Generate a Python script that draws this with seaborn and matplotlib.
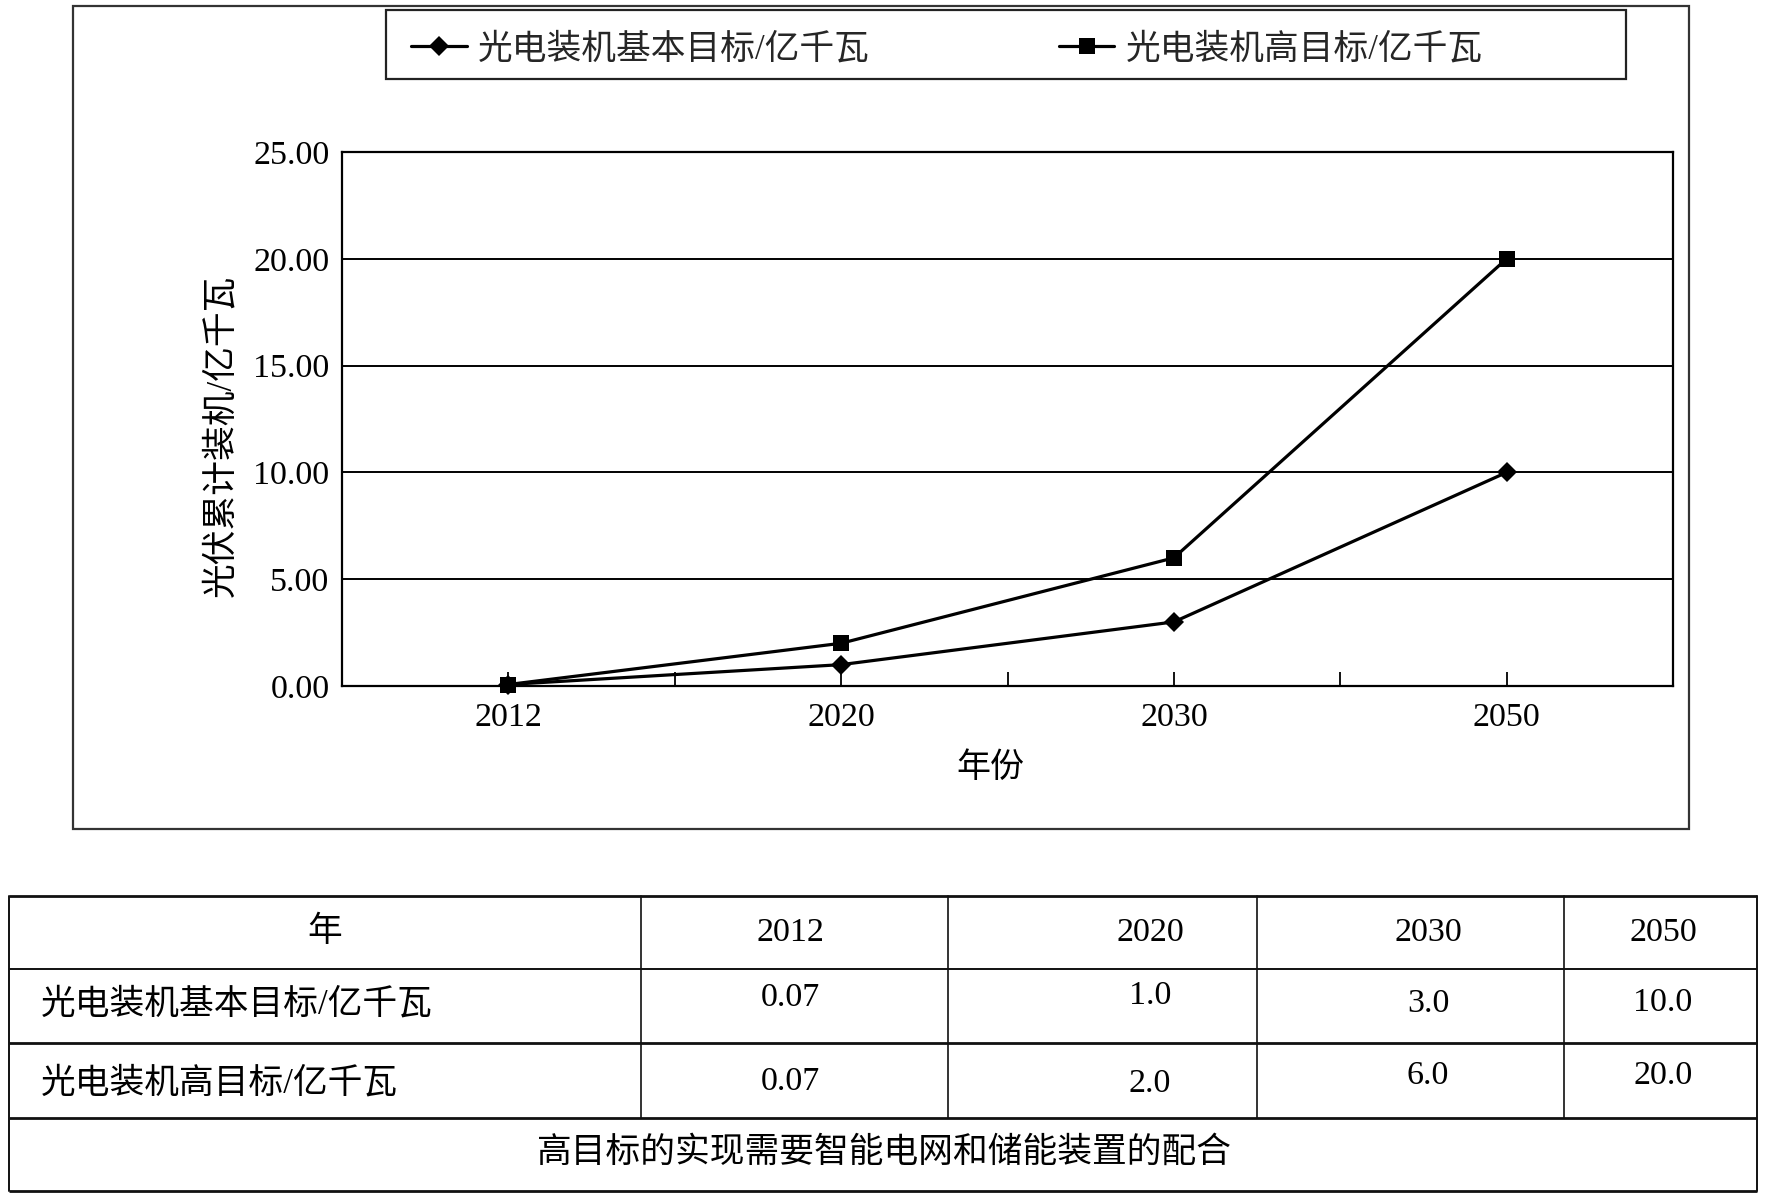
import numpy as np
import pandas as pd
import matplotlib
matplotlib.use("Agg")
import matplotlib.pyplot as plt
import seaborn as sns
from matplotlib.patches import Rectangle
from matplotlib.ticker import FixedLocator, FormatStrFormatter

# ---------------- data ----------------
years = ["2012", "2020", "2030", "2050"]
basic_target = [0.07, 1.0, 3.0, 10.0]
high_target = [0.07, 2.0, 6.0, 20.0]
basic_label = "光电装机基本目标/亿千瓦"
high_label = "光电装机高目标/亿千瓦"
y_ticks = [0, 5, 10, 15, 20, 25]
x_label = "年份"
y_label = "光伏累计装机/亿千瓦"
table_header = "年"
table_basic_text = ["0.07", "1.0", "3.0", "10.0"]
table_high_text = ["0.07", "2.0", "6.0", "20.0"]
table_note = "高目标的实现需要智能电网和储能装置的配合"

# ---------------- style ----------------
sns.set_theme(style="white")
FAM = ["Liberation Serif", "Noto Sans CJK SC", "DejaVu Sans"]
plt.rcParams["font.family"] = FAM
plt.rcParams["axes.unicode_minus"] = False

CJK_SIZE = 25
NUM_SIZE = 24.5

W, H = 1767, 1196
fig = plt.figure(figsize=(W / 100, H / 100), dpi=100)
fig.patch.set_facecolor("white")

# background / layout axes in pixel coordinates (frame, legend box, table)
bg = fig.add_axes([0, 0, 1, 1])
bg.set_xlim(0, W)
bg.set_ylim(H, 0)
bg.axis("off")
bg.set_zorder(0)

# outer chart frame
bg.add_patch(Rectangle((73, 6), 1689 - 73, 829 - 6, fill=False,
                       edgecolor="#333333", linewidth=1.6))
# legend frame
bg.add_patch(Rectangle((386, 10), 1626 - 386, 79 - 10, fill=False,
                       edgecolor="#222222", linewidth=1.6))

# ---------------- chart ----------------
ax = fig.add_axes([342 / W, 1 - 686 / H, (1673 - 342) / W, (686 - 152) / H])
ax.set_zorder(2)
ax.set_facecolor("white")

pos = np.arange(len(years))
df = pd.DataFrame({
    "pos": np.concatenate([pos, pos]),
    "value": basic_target + high_target,
    "series": [basic_label] * len(years) + [high_label] * len(years),
})

sns.lineplot(data=df, x="pos", y="value", hue="series", style="series",
             hue_order=[high_label, basic_label],
             style_order=[high_label, basic_label],
             palette={basic_label: "black", high_label: "black"},
             markers={basic_label: "D", high_label: "s"},
             dashes=False, linewidth=2.3, markeredgewidth=0,
             ax=ax, legend=False, zorder=3)

line_by_label = {}
for ln in ax.lines:
    m = ln.get_marker()
    if m == "D":
        ln.set_markersize(10.5)
        line_by_label[basic_label] = ln
    elif m == "s":
        ln.set_markersize(11.5)
        line_by_label[high_label] = ln
    ln.set_clip_on(False)

ax.set_xlim(-0.5, 3.5)
ax.set_ylim(y_ticks[0], y_ticks[-1])
ax.yaxis.set_major_locator(FixedLocator(y_ticks))
ax.yaxis.set_major_formatter(FormatStrFormatter("%.2f"))
ax.set_xticks(pos)
ax.set_xticklabels(years)
ax.xaxis.set_minor_locator(FixedLocator(pos[:-1] + 0.5))

ax.yaxis.grid(True, color="black", linewidth=1.4)
ax.xaxis.grid(False)
ax.set_axisbelow(True)
for sp in ax.spines.values():
    sp.set_visible(True)
    sp.set_color("black")
    sp.set_linewidth(1.6)

ax.tick_params(axis="y", length=0, pad=9, labelsize=NUM_SIZE, labelcolor="black")
ax.tick_params(axis="x", which="both", direction="in", length=10, width=1.3,
               color="black", bottom=True, top=False)
ax.tick_params(axis="x", which="major", pad=12, labelsize=NUM_SIZE,
               labelcolor="black")

ax.set_xlabel(x_label, fontsize=24.5, color="black", family=FAM)
ax.set_ylabel(y_label, fontsize=25, color="black", family=FAM)
ax.xaxis.label.set_va("center")
ax.xaxis.set_label_coords((990 - 342) / 1331, -(768 - 686) / 534)
ax.yaxis.label.set_va("center")
ax.yaxis.label.set_ha("center")
ax.yaxis.set_label_coords((222 - 342) / 1331, 1 - (436 - 152) / 534)

# legend (frame drawn separately)
handles = [line_by_label[basic_label], line_by_label[high_label]]
fig.legend(handles, [basic_label, high_label], loc="center left",
           bbox_to_anchor=(411 / W, 1 - 50 / H), ncol=2, frameon=False,
           handlelength=1.6, handletextpad=0.32,
           columnspacing=5.45, borderpad=0, borderaxespad=0,
           prop={"family": FAM, "size": CJK_SIZE})

# ---------------- table ----------------
col_x = [9, 641, 948, 1257, 1564, 1757]
row_y = [896, 969, 1043, 1118, 1191]
tc = "#111111"
# horizontal rules
for i, yy in enumerate(row_y):
    bg.plot([col_x[0], col_x[-1]], [yy, yy], color=tc,
            linewidth=2.0 if i in (0, 2, 3, 4) else 1.4, solid_capstyle="butt")
# outer verticals
for xx in (col_x[0], col_x[-1]):
    bg.plot([xx, xx], [row_y[0], row_y[-1]], color=tc, linewidth=1.4)
# inner verticals (not through the note row)
for xx in col_x[1:-1]:
    bg.plot([xx, xx], [row_y[0], row_y[3]], color=tc, linewidth=1.2)

num_x = [790, 1150, 1428, 1663]
hdr_y = 933
basic_y = [998, 996, 1004, 1003]
high_y = [1082, 1084, 1076, 1076]

bg.text(325, hdr_y, table_header, fontsize=CJK_SIZE, ha="center", va="center",
        color="black", family=FAM)
for j, yr in enumerate(years):
    bg.text(num_x[j], hdr_y, yr, fontsize=NUM_SIZE, ha="center", va="center",
            color="black", family=FAM)
    bg.text(num_x[j], basic_y[j], table_basic_text[j], fontsize=NUM_SIZE,
            ha="center", va="center", color="black", family=FAM)
    bg.text(num_x[j], high_y[j], table_high_text[j], fontsize=NUM_SIZE,
            ha="center", va="center", color="black", family=FAM)

bg.text(41, 1005, basic_label, fontsize=CJK_SIZE, ha="left", va="center",
        color="black", family=FAM)
bg.text(41, 1084, high_label, fontsize=CJK_SIZE, ha="left", va="center",
        color="black", family=FAM)
bg.text(884, 1153, table_note, fontsize=CJK_SIZE, ha="center", va="center",
        color="black", family=FAM)

fig.savefig("out.png", dpi=100, facecolor="white")
